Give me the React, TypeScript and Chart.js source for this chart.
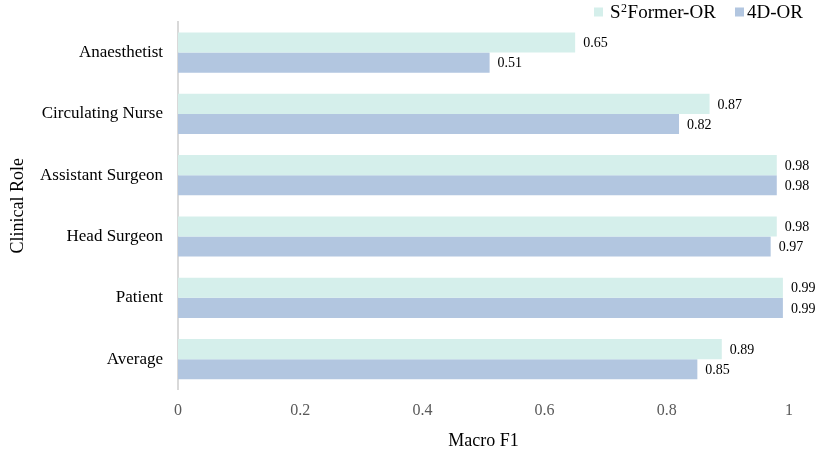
import React, { useEffect, useRef } from "react";
import { Chart, registerables } from "chart.js";

Chart.register(...registerables);

const categories = ["Anaesthetist", "Circulating Nurse", "Assistant Surgeon", "Head Surgeon", "Patient", "Average"];
const seriesNames = ["S²Former-OR", "4D-OR"];
const s2FormerValues = [0.65, 0.87, 0.98, 0.98, 0.99, 0.89];
const fourDValues = [0.51, 0.82, 0.98, 0.97, 0.99, 0.85];
const xTicks = [0, 0.2, 0.4, 0.6, 0.8, 1];
const colors = ["#d5efeb", "#b2c6e0"];

const FONT = "'Liberation Serif', 'Times New Roman', serif";

const valueLabels = {
  id: "valueLabels",
  afterDatasetsDraw(chart: any) {
    const ctx = chart.ctx;
    ctx.save();
    ctx.font = `14px ${FONT}`;
    ctx.fillStyle = "#000";
    ctx.textBaseline = "middle";
    ctx.textAlign = "left";
    chart.data.datasets.forEach((ds: any, i: number) => {
      const meta = chart.getDatasetMeta(i);
      meta.data.forEach((el: any, j: number) => {
        ctx.fillText(Number(ds.data[j]).toFixed(2), el.x + 8, el.y + 1);
      });
    });
    ctx.restore();
  },
};

const customLegend = {
  id: "customLegend",
  afterDraw(chart: any) {
    const ctx = chart.ctx;
    ctx.save();
    const big = 19;
    const small = 12;
    const cy = 12;
    const starts = [594, 735];
    chart.data.datasets.forEach((ds: any, i: number) => {
      const x0 = starts[i];
      ctx.fillStyle = ds.backgroundColor;
      ctx.fillRect(x0, cy - 4.5, 9, 9);
      ctx.fillStyle = "#000";
      ctx.textBaseline = "alphabetic";
      ctx.textAlign = "left";
      let x = x0 + (i === 0 ? 16 : 12);
      const baseline = cy + 6;
      const label: string = ds.label;
      const parts = label.split("²");
      parts.forEach((p, k) => {
        ctx.font = `${big}px ${FONT}`;
        ctx.fillText(p, x, baseline);
        x += ctx.measureText(p).width;
        if (k < parts.length - 1) {
          ctx.font = `${small}px ${FONT}`;
          ctx.fillText("2", x + 0.5, baseline - 6);
          x += ctx.measureText("2").width + 1;
        }
      });
    });
    ctx.restore();
  },
};

export default function App() {
  const ref = useRef<HTMLCanvasElement | null>(null);
  useEffect(() => {
    if (!ref.current) return;
    const chart = new Chart(ref.current, {
      type: "bar",
      data: {
        labels: categories,
        datasets: [
          { label: seriesNames[0], data: s2FormerValues, backgroundColor: colors[0], categoryPercentage: 0.655, barPercentage: 1 },
          { label: seriesNames[1], data: fourDValues, backgroundColor: colors[1], categoryPercentage: 0.655, barPercentage: 1 },
        ],
      },
      options: {
        indexAxis: "y",
        animation: false,
        responsive: true,
        maintainAspectRatio: false,
        layout: { padding: { top: 21.9, right: 41, left: 0, bottom: 0 } },
        plugins: { legend: { display: false }, tooltip: { enabled: false } },
        scales: {
          x: {
            min: 0,
            max: 1,
            afterBuildTicks: (scale: any) => {
              scale.ticks = xTicks.map((v) => ({ value: v }));
            },
            afterFit: (scale: any) => {
              scale.height = 63.2;
            },
            grid: { display: false, drawTicks: false },
            border: { display: false },
            ticks: {
              padding: 11,
              color: "#595959",
              font: { family: FONT, size: 16 },
              callback: (v: any) => String(Number(v)),
            },
            title: {
              display: true,
              text: "Macro F1",
              color: "#000",
              font: { family: FONT, size: 18 },
              padding: { top: 0, bottom: 1 },
            },
          },
          y: {
            afterFit: (scale: any) => {
              scale.width = 178;
              scale.paddingTop = 0;
              scale.paddingBottom = 0;
            },
            grid: { display: false, drawTicks: false },
            border: { display: true, color: "#d9d9d9", width: 2 },
            ticks: {
              padding: 15,
              color: "#000",
              font: { family: FONT, size: 17 },
            },
            title: {
              display: true,
              text: "Clinical Role",
              color: "#000",
              font: { family: FONT, size: 18 },
              padding: { top: 7, bottom: 0 },
            },
          },
        },
      },
      plugins: [valueLabels, customLegend],
    });
    return () => chart.destroy();
  }, []);
  return (
    <div style={{ position: "absolute", left: 0, top: 0, width: 830, height: 453 }}>
      <canvas ref={ref} />
    </div>
  );
}
